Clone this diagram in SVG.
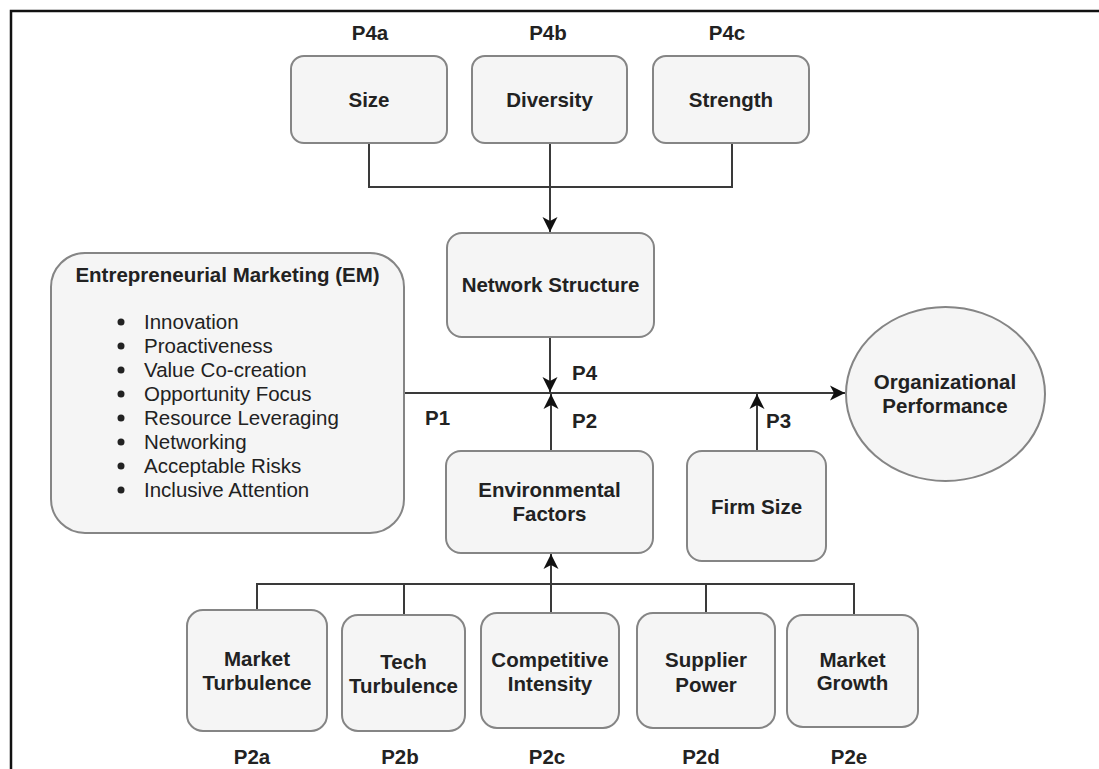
<svg xmlns="http://www.w3.org/2000/svg" width="1099" height="769" viewBox="0 0 1099 769">
<style>
  .box { fill: #f5f5f5; stroke: #858585; stroke-width: 2; }
  .t { font-family: "Liberation Sans", Arial, sans-serif; font-size: 20.5px; fill: #222; }
  .b { font-weight: bold; }
  .c { text-anchor: middle; }
  .ln { fill: none; stroke: #3a3a3a; stroke-width: 2; }
</style>
<defs>
  <marker id="arr" markerUnits="userSpaceOnUse" markerWidth="18" markerHeight="18" viewBox="-16 -9 18 18" refX="0" refY="0" orient="auto">
    <path d="M0,0 L-15,-7.5 L-11,0 L-15,7.5 Z" fill="#111"/>
  </marker>
</defs>
<rect width="1099" height="769" fill="#ffffff"/>
<path d="M11,769 L11,11 L1099,11" fill="none" stroke="#111" stroke-width="2.5"/>

<g id="connectors">
  <path class="ln" d="M369,143 L369,187 L732,187 L732,143"/>
  <path class="ln" d="M550,143 L550,232" marker-end="url(#arr)"/>
  <path class="ln" d="M550,337 L550,392" marker-end="url(#arr)"/>
  <path class="ln" d="M551,451 L551,394" marker-end="url(#arr)"/>
  <path class="ln" d="M404,393 L845,393" marker-end="url(#arr)"/>
  <path class="ln" d="M757,451 L757,394" marker-end="url(#arr)"/>
  <path class="ln" d="M257,610 L257,584 L854,584 L854,615"/>
  <path class="ln" d="M404,584 L404,615"/>
  <path class="ln" d="M706,584 L706,613"/>
  <path class="ln" d="M551,613 L551,554" marker-end="url(#arr)"/>
</g>

<g id="labels">
  <text class="t b c" x="370" y="40">P4a</text>
  <text class="t b c" x="548" y="40">P4b</text>
  <text class="t b c" x="727" y="40">P4c</text>
  <text class="t b" x="572" y="380">P4</text>
  <text class="t b" x="425" y="425">P1</text>
  <text class="t b" x="572" y="428">P2</text>
  <text class="t b" x="766" y="428">P3</text>
  <text class="t b c" x="252" y="764">P2a</text>
  <text class="t b c" x="400" y="764">P2b</text>
  <text class="t b c" x="547" y="764">P2c</text>
  <text class="t b c" x="701" y="764">P2d</text>
  <text class="t b c" x="849" y="764">P2e</text>
</g>

<g id="size">
  <rect class="box" x="291" y="56" width="156" height="87" rx="13"/>
  <text class="t b c" x="369" y="107">Size</text>
</g>
<g id="diversity">
  <rect class="box" x="472" y="56" width="155" height="87" rx="13"/>
  <text class="t b c" x="549.5" y="107">Diversity</text>
</g>
<g id="strength">
  <rect class="box" x="653" y="56" width="156" height="87" rx="13"/>
  <text class="t b c" x="731" y="107">Strength</text>
</g>
<g id="network-structure">
  <rect class="box" x="447" y="233" width="207" height="104" rx="15"/>
  <text class="t b c" x="550.5" y="292">Network Structure</text>
</g>
<g id="em">
  <rect class="box" x="51" y="253" width="353" height="280" rx="34"/>
  <text class="t b c" x="227.5" y="282">Entrepreneurial Marketing (EM)</text>
  <g fill="#222">
    <circle cx="121" cy="322" r="3.5"/>
    <circle cx="121" cy="346" r="3.5"/>
    <circle cx="121" cy="370" r="3.5"/>
    <circle cx="121" cy="394" r="3.5"/>
    <circle cx="121" cy="418" r="3.5"/>
    <circle cx="121" cy="442" r="3.5"/>
    <circle cx="121" cy="466" r="3.5"/>
    <circle cx="121" cy="490" r="3.5"/>
  </g>
  <text class="t" x="144" y="329">Innovation</text>
  <text class="t" x="144" y="353">Proactiveness</text>
  <text class="t" x="144" y="377">Value Co-creation</text>
  <text class="t" x="144" y="401">Opportunity Focus</text>
  <text class="t" x="144" y="425">Resource Leveraging</text>
  <text class="t" x="144" y="449">Networking</text>
  <text class="t" x="144" y="473">Acceptable Risks</text>
  <text class="t" x="144" y="497">Inclusive Attention</text>
</g>
<g id="org-performance">
  <ellipse class="box" cx="945.5" cy="394" rx="99.5" ry="87"/>
  <text class="t b c" x="945" y="389">Organizational</text>
  <text class="t b c" x="945" y="413">Performance</text>
</g>
<g id="environmental-factors">
  <rect class="box" x="446" y="451" width="207" height="102" rx="15"/>
  <text class="t b c" x="549.5" y="497">Environmental</text>
  <text class="t b c" x="549.5" y="521">Factors</text>
</g>
<g id="firm-size">
  <rect class="box" x="687" y="451" width="139" height="110" rx="15"/>
  <text class="t b c" x="756.5" y="514">Firm Size</text>
</g>
<g id="market-turbulence">
  <rect class="box" x="187" y="610" width="140" height="121" rx="16"/>
  <text class="t b c" x="257" y="666">Market</text>
  <text class="t b c" x="257" y="690">Turbulence</text>
</g>
<g id="tech-turbulence">
  <rect class="box" x="342" y="615" width="123" height="116" rx="16"/>
  <text class="t b c" x="403.5" y="669">Tech</text>
  <text class="t b c" x="403.5" y="693">Turbulence</text>
</g>
<g id="competitive-intensity">
  <rect class="box" x="481" y="613" width="138" height="115" rx="16"/>
  <text class="t b c" x="550" y="667">Competitive</text>
  <text class="t b c" x="550" y="691">Intensity</text>
</g>
<g id="supplier-power">
  <rect class="box" x="637" y="613" width="138" height="115" rx="16"/>
  <text class="t b c" x="706" y="667">Supplier</text>
  <text class="t b c" x="706" y="692">Power</text>
</g>
<g id="market-growth">
  <rect class="box" x="787" y="615" width="131" height="112" rx="16"/>
  <text class="t b c" x="852.5" y="667">Market</text>
  <text class="t b c" x="852.5" y="690">Growth</text>
</g>
</svg>
